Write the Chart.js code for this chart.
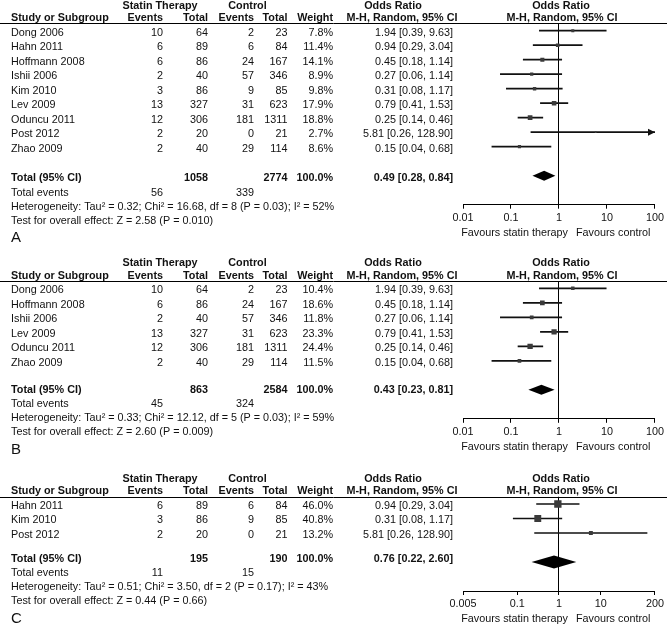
<!DOCTYPE html>
<html>
<head>
<meta charset="utf-8">
<script src="https://cdn.jsdelivr.net/npm/chart.js@4.4.1/dist/chart.umd.min.js"></script>
<style>
  html, body { margin: 0; padding: 0; background: #fff; overflow: hidden; }
  canvas { position: absolute; left: 0; }
</style>
</head>
<body>
<canvas id="chartA" width="667" height="252" style="top:0px"></canvas>
<canvas id="chartB" width="667" height="210" style="top:252px"></canvas>
<canvas id="chartC" width="667" height="173" style="top:462px"></canvas>
<script>
// panel A - all studies
const studiesA = ['Dong 2006', 'Hahn 2011', 'Hoffmann 2008', 'Ishii 2006', 'Kim 2010', 'Lev 2009', 'Oduncu 2011', 'Post 2012', 'Zhao 2009'];
const statinEventsA = [10, 6, 6, 2, 3, 13, 12, 2, 2];
const statinTotalA = [64, 89, 86, 40, 86, 327, 306, 20, 40];
const controlEventsA = [2, 6, 24, 57, 9, 31, 181, 0, 29];
const controlTotalA = [23, 84, 167, 346, 85, 623, 1311, 21, 114];
const weightA = [7.8, 11.4, 14.1, 8.9, 9.8, 17.9, 18.8, 2.7, 8.6];
const orA = [1.94, 0.94, 0.45, 0.27, 0.31, 0.79, 0.25, 5.81, 0.15];
const lowerA = [0.39, 0.29, 0.18, 0.06, 0.08, 0.41, 0.14, 0.26, 0.04];
const upperA = [9.63, 3.04, 1.14, 1.14, 1.17, 1.53, 0.46, 128.90, 0.68];
const totalOrA = [0.49, 0.28, 0.84]; // estimate, lower, upper
const hetA = 'Heterogeneity: Tau² = 0.32; Chi² = 16.68, df = 8 (P = 0.03); I² = 52%';
const testA = 'Test for overall effect: Z = 2.58 (P = 0.010)';
const ticksA = [0.01, 0.1, 1, 10, 100];
const tickLabelsA = ['0.01', '0.1', '1', '10', '100'];

// panel B
const studiesB = ['Dong 2006', 'Hoffmann 2008', 'Ishii 2006', 'Lev 2009', 'Oduncu 2011', 'Zhao 2009'];
const statinEventsB = [10, 6, 2, 13, 12, 2];
const statinTotalB = [64, 86, 40, 327, 306, 40];
const controlEventsB = [2, 24, 57, 31, 181, 29];
const controlTotalB = [23, 167, 346, 623, 1311, 114];
const weightB = [10.4, 18.6, 11.8, 23.3, 24.4, 11.5];
const orB = [1.94, 0.45, 0.27, 0.79, 0.25, 0.15];
const lowerB = [0.39, 0.18, 0.06, 0.41, 0.14, 0.04];
const upperB = [9.63, 1.14, 1.14, 1.53, 0.46, 0.68];
const totalOrB = [0.43, 0.23, 0.81];
const hetB = 'Heterogeneity: Tau² = 0.33; Chi² = 12.12, df = 5 (P = 0.03); I² = 59%';
const testB = 'Test for overall effect: Z = 2.60 (P = 0.009)';
const ticksB = [0.01, 0.1, 1, 10, 100];
const tickLabelsB = ['0.01', '0.1', '1', '10', '100'];

// panel C
const studiesC = ['Hahn 2011', 'Kim 2010', 'Post 2012'];
const statinEventsC = [6, 3, 2];
const statinTotalC = [89, 86, 20];
const controlEventsC = [6, 9, 0];
const controlTotalC = [84, 85, 21];
const weightC = [46.0, 40.8, 13.2];
const orC = [0.94, 0.31, 5.81];
const lowerC = [0.29, 0.08, 0.26];
const upperC = [3.04, 1.17, 128.90];
const totalOrC = [0.76, 0.22, 2.60];
const hetC = 'Heterogeneity: Tau² = 0.51; Chi² = 3.50, df = 2 (P = 0.17); I² = 43%';
const testC = 'Test for overall effect: Z = 0.44 (P = 0.66)';
const ticksC = [0.005, 0.1, 1, 10, 200];
const tickLabelsC = ['0.005', '0.1', '1', '10', '200'];

const FONT = '"Liberation Sans", Arial, Helvetica, sans-serif';
Chart.defaults.font.family = FONT;
const STEP = 14.5; // row spacing in px
const sum = arr => arr.reduce((a, b) => a + b, 0);
const fmtCI = (o, l, u) => `${o.toFixed(2)} [${l.toFixed(2)}, ${u.toFixed(2)}]`;

function drawForest(id, p, lay) {
  const n = p.studies.length;
  const rowTop = lay.rowTop - lay.top; // first row, canvas coords
  const areaTop = rowTop - 0.5 * STEP;
  const axisY = rowTop + (n + 3) * STEP;
  const axisH = 20;

  // diamond, arrows and the whole table text
  const extras = {
    id: 'extras' + id,
    afterDatasetsDraw(chart) {
      const { ctx, scales: { x, y } } = chart;
      ctx.save();
      const yt = y.getPixelForValue(n + 1);
      const xm = x.getPixelForValue(p.total[0]);
      const xl = x.getPixelForValue(p.total[1]);
      const xr = x.getPixelForValue(p.total[2]);
      ctx.fillStyle = '#000';
      ctx.beginPath();
      ctx.moveTo(xl, yt);
      ctx.lineTo(xm, yt - lay.diamond);
      ctx.lineTo(xr, yt);
      ctx.lineTo(xm, yt + lay.diamond);
      ctx.closePath();
      ctx.fill();

      // CI running off the axis gets an arrow head
      p.upper.forEach((u, i) => {
        if (u <= p.xMax) return;
        const tip = x.getPixelForValue(p.xMax);
        const yy = y.getPixelForValue(i);
        ctx.fillStyle = '#111';
        ctx.beginPath();
        ctx.moveTo(tip, yy);
        ctx.lineTo(tip - 7, yy - 3.5);
        ctx.lineTo(tip - 7, yy + 3.5);
        ctx.closePath();
        ctx.fill();
      });
      ctx.restore();
    },
    afterDraw(chart) {
      const { ctx, scales: { y }, chartArea } = chart;
      const reg = '10.8px ' + FONT;
      const bold = 'bold 10.8px ' + FONT;
      const txt = (s, xx, yy, align, f) => {
        ctx.font = f;
        ctx.textAlign = align;
        ctx.fillText(s, xx, yy);
      };
      ctx.save();
      ctx.fillStyle = '#111';
      ctx.textBaseline = 'middle';

      const r0 = y.getPixelForValue(0);
      const h1 = r0 - 25, h2 = r0 - 12.5;
      txt('Statin Therapy', 160, h1, 'center', bold);
      txt('Control', 247.5, h1, 'center', bold);
      txt('Odds Ratio', 393, h1, 'center', bold);
      txt('Odds Ratio', 561, h1, 'center', bold);
      txt('Study or Subgroup', 11, h2, 'left', bold);
      txt('Events', 163, h2, 'right', bold);
      txt('Total', 208, h2, 'right', bold);
      txt('Events', 254, h2, 'right', bold);
      txt('Total', 287.5, h2, 'right', bold);
      txt('Weight', 333, h2, 'right', bold);
      txt('M-H, Random, 95% CI', 402, h2, 'center', bold);
      txt('M-H, Random, 95% CI', 562, h2, 'center', bold);

      // header rule across the full width
      const ry = Math.round(chartArea.top) + 0.5;
      ctx.strokeStyle = '#000';
      ctx.lineWidth = 1;
      ctx.beginPath();
      ctx.moveTo(0, ry);
      ctx.lineTo(chart.width, ry);
      ctx.stroke();

      p.studies.forEach((s, i) => {
        const yy = y.getPixelForValue(i) + 2;
        txt(s, 11, yy, 'left', reg);
        txt(String(p.statinEvents[i]), 163, yy, 'right', reg);
        txt(String(p.statinTotal[i]), 208, yy, 'right', reg);
        txt(String(p.controlEvents[i]), 254, yy, 'right', reg);
        txt(String(p.controlTotal[i]), 287.5, yy, 'right', reg);
        txt(p.weight[i].toFixed(1) + '%', 333, yy, 'right', reg);
        txt(fmtCI(p.or[i], p.lower[i], p.upper[i]), 453, yy, 'right', reg);
      });

      const yt = y.getPixelForValue(n + 1) + lay.textDy;
      txt('Total (95% CI)', 11, yt, 'left', bold);
      txt(String(sum(p.statinTotal)), 208, yt, 'right', bold);
      txt(String(sum(p.controlTotal)), 287.5, yt, 'right', bold);
      txt('100.0%', 333, yt, 'right', bold);
      txt(fmtCI(p.total[0], p.total[1], p.total[2]), 453, yt, 'right', bold);
      txt('Total events', 11, yt + 14.5, 'left', reg);
      txt(String(sum(p.statinEvents)), 163, yt + 14.5, 'right', reg);
      txt(String(sum(p.controlEvents)), 254, yt + 14.5, 'right', reg);
      txt(p.het, 11, yt + 28.5, 'left', reg);
      txt(p.test, 11, yt + 42.5, 'left', reg);
      txt(p.letter, 11, yt + 60, 'left', '15px ' + FONT);

      const ya = chartArea.bottom + 28;
      txt('Favours statin therapy', 568, ya, 'right', reg);
      txt('Favours control', 576, ya, 'left', reg);
      ctx.restore();
    }
  };

  return new Chart(document.getElementById(id), {
    type: 'scatter',
    data: {
      datasets: [
        {
          type: 'bar',
          indexAxis: 'y',
          order: 1,
          data: p.lower.map((lo, i) => ({ x: [lo, Math.min(p.upper[i], p.xMax)], y: i })),
          backgroundColor: '#111',
          borderWidth: 0,
          barThickness: 1
        },
        {
          type: 'scatter',
          order: 0,
          data: p.or.map((v, i) => ({ x: v, y: i })),
          pointStyle: 'rect',
          pointRadius: c => 1.08 * Math.sqrt(p.weight[c.dataIndex]) / Math.SQRT2,
          backgroundColor: '#3a3a3a',
          borderWidth: 0
        }
      ]
    },
    options: {
      responsive: false,
      animation: false,
      devicePixelRatio: 1,
      layout: {
        padding: { top: areaTop, bottom: lay.height - axisY - axisH, left: 463, right: 10 }
      },
      plugins: { legend: { display: false }, tooltip: { enabled: false } },
      scales: {
        x: {
          type: 'logarithmic',
          min: p.xMin,
          max: p.xMax,
          afterBuildTicks: s => { s.ticks = p.ticks.map(v => ({ value: v })); },
          afterFit: s => { s.height = axisH; },
          ticks: {
            callback: (v, i) => p.tickLabels[i],
            color: '#111',
            font: { size: 10.8 },
            padding: 3,
            maxRotation: 0,
            autoSkip: false
          },
          grid: {
            color: c => (c.tick && c.tick.value === 1 ? '#000' : 'rgba(0,0,0,0)'),
            tickColor: '#000',
            tickLength: 4,
            lineWidth: 1
          },
          border: { display: true, color: '#000', width: 1 }
        },
        y: {
          type: 'linear',
          reverse: true,
          offset: false,
          min: -0.5,
          max: n + 3,
          display: false
        }
      }
    },
    plugins: [extras]
  });
}

drawForest('chartA', {
  studies: studiesA, statinEvents: statinEventsA, statinTotal: statinTotalA,
  controlEvents: controlEventsA, controlTotal: controlTotalA, weight: weightA,
  or: orA, lower: lowerA, upper: upperA, total: totalOrA,
  het: hetA, test: testA, letter: 'A',
  xMin: 0.01, xMax: 100, ticks: ticksA, tickLabels: tickLabelsA
}, { top: 0, height: 252, rowTop: 30.7, diamond: 5, textDy: 2.5 });

drawForest('chartB', {
  studies: studiesB, statinEvents: statinEventsB, statinTotal: statinTotalB,
  controlEvents: controlEventsB, controlTotal: controlTotalB, weight: weightB,
  or: orB, lower: lowerB, upper: upperB, total: totalOrB,
  het: hetB, test: testB, letter: 'B',
  xMin: 0.01, xMax: 100, ticks: ticksB, tickLabels: tickLabelsB
}, { top: 252, height: 210, rowTop: 288.3, diamond: 5, textDy: 0 });

drawForest('chartC', {
  studies: studiesC, statinEvents: statinEventsC, statinTotal: statinTotalC,
  controlEvents: controlEventsC, controlTotal: controlTotalC, weight: weightC,
  or: orC, lower: lowerC, upper: upperC, total: totalOrC,
  het: hetC, test: testC, letter: 'C',
  xMin: 0.005, xMax: 200, ticks: ticksC, tickLabels: tickLabelsC
}, { top: 462, height: 173, rowTop: 504, diamond: 6.5, textDy: -3 });
</script>
</body>
</html>
